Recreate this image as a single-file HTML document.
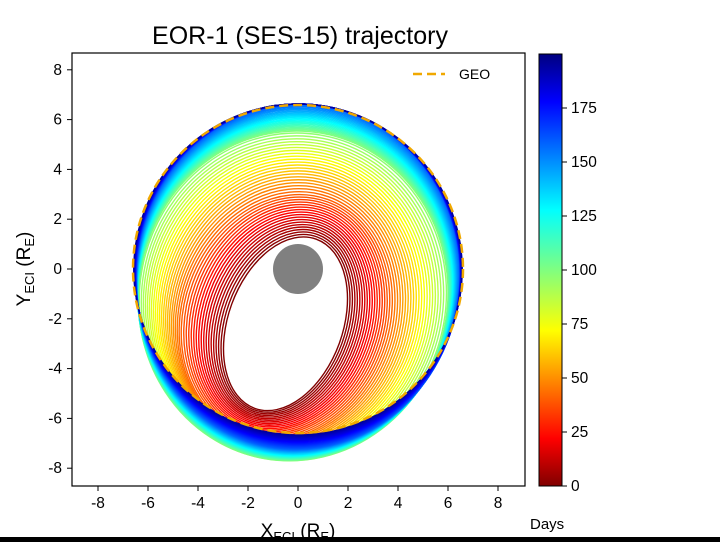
<!DOCTYPE html>
<html><head><meta charset="utf-8"><style>
body{margin:0;background:#fff;width:720px;height:542px;overflow:hidden}
svg{font-family:"Liberation Sans",Arial,sans-serif}
</style></head><body>
<svg id="s" width="720" height="542" xmlns="http://www.w3.org/2000/svg">
<defs>
<linearGradient id="jet" x1="0" y1="1" x2="0" y2="0">
<stop offset="0" stop-color="#800000"/><stop offset="0.11" stop-color="#ff0000"/>
<stop offset="0.36" stop-color="#ffff00"/><stop offset="0.5" stop-color="#80ff80"/>
<stop offset="0.64" stop-color="#00ffff"/><stop offset="0.89" stop-color="#0000ff"/>
<stop offset="1" stop-color="#000080"/></linearGradient>
<clipPath id="cp"><rect x="72" y="53" width="453" height="433"/></clipPath>
</defs>
<text x="300" y="44" font-size="25" text-anchor="middle">EOR-1 (SES-15) trajectory</text>
<g id="orb" clip-path="url(#cp)"></g>
<circle cx="298" cy="269" r="25" fill="#808080"/>
<ellipse cx="298" cy="269" rx="165" ry="164" fill="none" stroke="#f0a800" stroke-width="2.5" stroke-dasharray="9,5"/>
<rect x="72" y="53" width="453" height="433" fill="none" stroke="#000" stroke-width="1.2"/>
<line x1="413" y1="74" x2="445" y2="74" stroke="#f0a800" stroke-width="2.5" stroke-dasharray="9,5"/>
<text x="459" y="79" font-size="14">GEO</text>
<g id="ax" font-size="15.5"></g>
<rect x="539" y="54" width="23" height="432" fill="url(#jet)" stroke="#000" stroke-width="1"/>
<text x="530" y="529" font-size="15">Days</text>
<text x="298" y="537" font-size="19" text-anchor="middle">X<tspan font-size="13" dy="4">ECI</tspan><tspan dy="-4"> (R</tspan><tspan font-size="13" dy="4">E</tspan><tspan dy="-4">)</tspan></text>
<text transform="translate(30,269) rotate(-90)" font-size="19" text-anchor="middle">Y<tspan font-size="13" dy="4">ECI</tspan><tspan dy="-4"> (R</tspan><tspan font-size="13" dy="4">E</tspan><tspan dy="-4">)</tspan></text>
<rect x="0" y="537" width="720" height="5" fill="#000"/>
</svg>
<script>
var ns="http://www.w3.org/2000/svg";
function el(t,a,p){var e=document.createElementNS(ns,t);for(var k in a)e.setAttribute(k,a[k]);p.appendChild(e);return e;}
var ax=document.getElementById('ax');
for(var v=-8;v<=8;v+=2){var x=298+v*25;el('line',{x1:x,y1:486,x2:x,y2:491,stroke:'#000'},ax);
var t=el('text',{x:x,y:508,'text-anchor':'middle'},ax);t.textContent=v;
var y=269-v*24.9;el('line',{x1:67,y1:y,x2:72,y2:y,stroke:'#000'},ax);
t=el('text',{x:62,y:y+5,'text-anchor':'end'},ax);t.textContent=v;}
for(var d=0;d<=175;d+=25){var y=486-d*2.16;el('line',{x1:562,y1:y,x2:567,y2:y,stroke:'#000'},ax);
var t=el('text',{x:571,y:y+5},ax);t.textContent=d;}
function jet(v){function c(x){return Math.max(0,Math.min(1,x));}
var r=c(1.5-Math.abs(4*v-3)),g=c(1.5-Math.abs(4*v-2)),b=c(1.5-Math.abs(4*v-1));
return 'rgb('+Math.round(r*255)+','+Math.round(g*255)+','+Math.round(b*255)+')';}
var K=[[0,-0.5,-2.2,3.6,2.3,70],[45,-0.5,-1.9,5.0,4.1,70],[100,-0.2,-1.1,6.6,6.2,80],[160,0,-0.3,6.9,6.5,85],[200,0,0,6.6,6.6,90]];
function kf(d){for(var i=0;i<K.length-1;i++){if(d<=K[i+1][0]){var f=(d-K[i][0])/(K[i+1][0]-K[i][0]);return K[i].map(function(v,j){return v+(K[i+1][j]-v)*f;});}}return K[K.length-1];}
var g=document.getElementById('orb');
for(var d=0;d<=198;d+=2.6){var k=kf(d);var cx=298+k[1]*25,cy=269-k[2]*24.9;
el('ellipse',{cx:cx,cy:cy,rx:k[3]*25,ry:k[4]*24.9,transform:'rotate('+(-k[5])+' '+cx+' '+cy+')',fill:'none',stroke:jet(1-d/200*0.98),'stroke-width':1.4},g);}
</script>
</body></html>
